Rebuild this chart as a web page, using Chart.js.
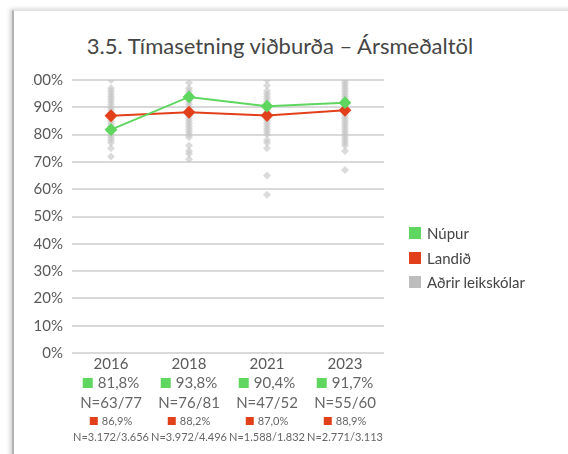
<!DOCTYPE html>
<html>
<head>
<meta charset="utf-8">
<script src="https://cdn.jsdelivr.net/npm/chart.js@4.4.1/dist/chart.umd.min.js"></script>
<style>
  body { margin:0; background:#fff; width:568px; height:454px; overflow:hidden; position:relative; font-family:Lato, sans-serif; }
  #card { position:absolute; left:12px; top:10px; width:600px; height:500px; background:#fff;
          border-left:2px solid #b4b4b4; border-top:1px solid #e2e2e2;
          box-shadow:-2px -1px 4px rgba(0,0,0,0.18); }
  #title { position:absolute; left:80px; width:400px; top:32px; text-align:center; font-size:22px; color:#454545; white-space:nowrap; }
  #clip { position:absolute; left:32px; top:0; width:536px; height:454px; overflow:hidden; }
  #clip canvas { position:absolute; left:-32px; top:0; }
  #legend { position:absolute; left:409px; top:221px; font-size:15px; color:#444; }
  #legend div { height:24.5px; display:flex; align-items:center; }
  #legend span { display:inline-block; width:12px; height:12px; margin-right:6px; }
</style>
</head>
<body>
<div id="card"></div>
<div id="title">3.5. Tímasetning viðburða – Ársmeðaltöl</div>
<div id="clip"><canvas id="chart" width="568" height="454"></canvas></div>
<div id="legend"></div>
<script>
const years = ['2016', '2018', '2021', '2023'];
const nupur = [81.8, 93.8, 90.4, 91.7];
const landid = [86.9, 88.2, 87.0, 88.9];
const nupurN = ['N=63/77', 'N=76/81', 'N=47/52', 'N=55/60'];
const landidN = ['N=3.172/3.656', 'N=3.972/4.496', 'N=1.588/1.832', 'N=2.771/3.113'];

// other preschools, one small list per year
const others2016 = [100, 97, 96, 95, 94, 93, 92, 91, 90, 89, 88, 87, 86, 85, 84, 83, 82, 81, 80, 79, 78, 77, 75, 72];
const others2018 = [99, 97, 96, 95, 94, 93, 92, 91, 90, 89, 88, 87, 86, 85, 84, 83, 82, 81, 80, 79, 76, 74, 73, 71];
const others2021 = [100, 98, 96, 95, 94, 93, 92, 91, 90, 89, 88, 87, 86, 85, 84, 83, 82, 81, 80, 78, 77, 75, 65, 58];
const others2023 = [100, 99, 98, 97, 96, 95, 94, 93, 92, 91, 90, 89, 88, 87, 86, 85, 84, 83, 82, 81, 80, 79, 78, 77, 76, 74, 67];

const green = '#5fd65f';
const red = '#e2401b';
const grey = '#bdbdbd';

const otherPoints = [];
[others2016, others2018, others2021, others2023].forEach((list, i) => {
  list.forEach(v => otherPoints.push({x: years[i], y: v}));
});

const fmt = v => v.toFixed(1).replace('.', ',') + '%';

const bottomRows = {
  id: 'bottomRows',
  afterDraw(chart) {
    const ctx = chart.ctx;
    const xs = chart.scales.x;
    ctx.save();
    ctx.textBaseline = 'middle';
    years.forEach((y, i) => {
      const x = xs.getPixelForValue(i);
      // green value row
      ctx.font = '15px Lato';
      let t = fmt(nupur[i]);
      let w = ctx.measureText(t).width;
      let start = x - (w + 15) / 2;
      ctx.fillStyle = green;
      ctx.fillRect(start, 378, 10, 10);
      ctx.fillStyle = '#666';
      ctx.textAlign = 'left';
      ctx.fillText(t, start + 15, 383);
      ctx.textAlign = 'center';
      ctx.fillText(nupurN[i], x, 403);
      // red rows
      ctx.font = '11px Lato';
      t = fmt(landid[i]);
      w = ctx.measureText(t).width;
      start = x - (w + 12) / 2;
      ctx.fillStyle = red;
      ctx.fillRect(start, 417, 8, 8);
      ctx.fillStyle = '#666';
      ctx.textAlign = 'left';
      ctx.fillText(t, start + 12, 421);
      ctx.textAlign = 'center';
      ctx.fillText(landidN[i], x, 437);
    });
    ctx.restore();
  }
};

const chart = new Chart(document.getElementById('chart'), {
  type: 'line',
  data: {
    labels: years,
    datasets: [
      { label: 'Núpur', data: nupur, borderColor: green, backgroundColor: green,
        borderWidth: 2, pointStyle: 'rectRot', pointRadius: 5, order: 1 },
      { label: 'Landið', data: landid, borderColor: red, backgroundColor: red,
        borderWidth: 2, pointStyle: 'rectRot', pointRadius: 5, order: 2 },
      { label: 'Aðrir leikskólar', data: otherPoints, showLine: false,
        borderColor: 'rgba(0,0,0,0)', backgroundColor: 'rgba(195,195,195,0.6)', legendColor: grey,
        pointStyle: 'rectRot', pointRadius: 4, pointBorderWidth: 0, order: 3 }
    ]
  },
  options: {
    responsive: false,
    animation: false,
    layout: { padding: { left: 0, right: 184, top: 80, bottom: 0 } },
    plugins: {
      legend: { display: false },
      tooltip: { enabled: false }
    },
    scales: {
      x: {
        offset: true,
        grid: { display: false, drawTicks: false },
        border: { display: false },
        ticks: { color: '#595959', font: { family: 'Lato', size: 15 }, padding: 2 },
        afterFit(s) { s.height = 101; }
      },
      y: {
        min: 0, max: 100,
        grid: { color: '#d9d9d9', lineWidth: 2, drawTicks: false },
        border: { display: false },
        ticks: { stepSize: 10, color: '#595959', font: { family: 'Lato', size: 15 }, padding: 9,
                 callback: v => v + '%' },
        afterFit(s) { s.width = 72; }
      }
    }
  },
  plugins: [bottomRows]
});

const legend = document.getElementById('legend');
chart.data.datasets.forEach(ds => {
  const row = document.createElement('div');
  const sw = document.createElement('span');
  sw.style.background = ds.legendColor || ds.backgroundColor;
  row.appendChild(sw);
  row.appendChild(document.createTextNode(ds.label));
  legend.appendChild(row);
});
</script>
</body>
</html>
